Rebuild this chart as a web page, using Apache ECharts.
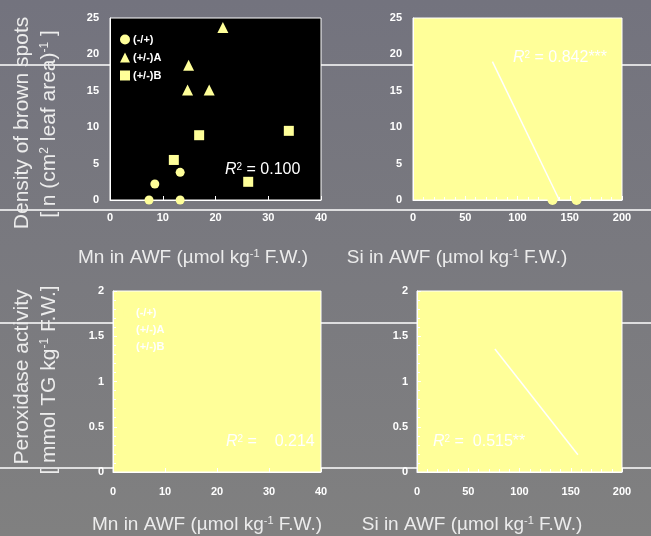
<!DOCTYPE html>
<html>
<head>
<meta charset="utf-8">
<script src="https://cdn.jsdelivr.net/npm/echarts@6/dist/echarts.min.js"></script>
<style>
  html, body { margin: 0; padding: 0; }
  #main { width: 651px; height: 536px; }
</style>
</head>
<body>
<div id="main"></div>
<script>
// 数据
var groupNames = ['(-/+)', '(+/-)A', '(+/-)B'];

// Mn (x) vs 褐斑密度 (y)
var mnSpotsMinusPlus = [[7.4, 0], [8.5, 2.2], [13.3, 3.8], [13.3, 0]];
var mnSpotsPlusMinusA = [[21.4, 23.7], [14.9, 18.5], [14.7, 15.1], [18.8, 15.1]];
var mnSpotsPlusMinusB = [[12.1, 5.5], [16.9, 8.9], [26.2, 2.5], [33.9, 9.5]];

// Si (x) vs 褐斑密度 (y): 只有落在0上的点可见
var siSpotsMinusPlus = [[133.5, 0], [156.5, 0]];
var siSpotsFit = [[76, 19], [140, 0]];

// Si (x) vs 过氧化物酶活性 (y)
var siPeroxFit = [[76, 1.36], [157, 0.19]];

// R2 标注
var r2Texts = ['0.100', '0.842***', '   0.214', ' 0.515**'];

var yellow = '#ffff99';
var fontFamily = 'Liberation Sans, Arial, sans-serif';

var chart = echarts.init(document.getElementById('main'), null, { renderer: 'canvas' });

/**
 * 坐标轴通用设置
 */
function makeAxis(gridIndex, max, interval, opts) {
  return {
    type: 'value',
    gridIndex: gridIndex,
    min: 0,
    max: max,
    interval: interval,
    splitLine: { show: false },
    axisLine: { show: true, lineStyle: { color: '#ffffff', width: 1 } },
    axisTick: { show: opts.tick, inside: true, length: 4, lineStyle: { color: '#ffffff' } },
    minorTick: { show: opts.minor > 0, splitNumber: opts.minor || 5, length: 3, lineStyle: { color: '#ffffff' } },
    axisLabel: {
      color: '#ffffff',
      fontWeight: 'bold',
      fontSize: 11,
      fontFamily: fontFamily,
      margin: opts.margin,
      showMinLabel: true,
      showMaxLabel: true
    }
  };
}

/**
 * R2 文字
 */
function r2Label(x, y, value) {
  return {
    type: 'text',
    left: x,
    top: y,
    z: 20,
    style: {
      text: '{i|R}{s|2}{n| = ' + value + '}',
      fill: '#ffffff',
      rich: {
        i: { fontStyle: 'italic', fontSize: 16, fontFamily: fontFamily, fill: '#ffffff' },
        s: { fontSize: 10, fontFamily: fontFamily, fill: '#ffffff', verticalAlign: 'top' },
        n: { fontSize: 16, fontFamily: fontFamily, fill: '#ffffff' }
      }
    }
  };
}

/**
 * 带上标的标题
 */
function titleText(x, y, parts, rotate) {
  var text = '';
  parts.forEach(function (p) {
    text += p[1] ? '{s|' + p[0] + '}' : '{n|' + p[0] + '}';
  });
  return {
    type: 'text',
    x: x,
    y: y,
    rotation: rotate ? Math.PI / 2 : 0,
    z: 20,
    style: {
      text: text,
      align: 'center',
      verticalAlign: 'middle',
      fill: '#ececec',
      rich: {
        n: { fontSize: rotate ? 21 : 19, fontFamily: fontFamily, fill: '#ececec' },
        s: { fontSize: rotate ? 12 : 11, fontFamily: fontFamily, fill: '#ececec', verticalAlign: 'top' }
      }
    }
  };
}

function hLine(y) {
  return {
    type: 'line',
    z: -10,
    shape: { x1: 0, y1: y, x2: 651, y2: y },
    style: { stroke: '#ffffff', lineWidth: 1.5 }
  };
}

var siXLabel = [['Si in AWF (µmol kg'], ['-1', true], [' F.W.)']];
var mnXLabel = [['Mn in AWF (µmol kg'], ['-1', true], [' F.W.)']];

var option = {
  backgroundColor: new echarts.graphic.LinearGradient(0, 0, 0, 1, [
    { offset: 0, color: '#73737e' },
    { offset: 1, color: '#808080' }
  ]),
  animation: false,
  grid: [
    { left: 110, top: 18, width: 211, height: 182, show: true, backgroundColor: '#000000', borderColor: '#ffffff', borderWidth: 1 },
    { left: 413, top: 18, width: 209, height: 182, show: true, backgroundColor: yellow, borderColor: '#ffffff', borderWidth: 1 },
    { left: 113, top: 291, width: 208, height: 181, show: true, backgroundColor: yellow, borderColor: '#ffffff', borderWidth: 1 },
    { left: 417, top: 291, width: 205, height: 181, show: true, backgroundColor: yellow, borderColor: '#ffffff', borderWidth: 1 }
  ],
  xAxis: [
    makeAxis(0, 40, 10, { tick: true, minor: 0, margin: 12 }),
    makeAxis(1, 200, 50, { tick: true, minor: 5, margin: 12 }),
    makeAxis(2, 40, 10, { tick: true, minor: 0, margin: 14 }),
    makeAxis(3, 200, 50, { tick: true, minor: 5, margin: 14 })
  ],
  yAxis: [
    makeAxis(0, 25, 5, { tick: false, minor: 0, margin: 11 }),
    makeAxis(1, 25, 5, { tick: false, minor: 0, margin: 11 }),
    makeAxis(2, 2, 0.5, { tick: true, minor: 5, margin: 9 }),
    makeAxis(3, 2, 0.5, { tick: true, minor: 5, margin: 9 })
  ],
  legend: [
    {
      orient: 'vertical',
      left: 115,
      top: 29,
      itemWidth: 10,
      itemHeight: 10,
      itemGap: 7,
      data: groupNames,
      textStyle: { color: '#ffffff', fontWeight: 'bold', fontSize: 11, fontFamily: fontFamily, padding: [0, 0, 0, -2] }
    },
    {
      orient: 'vertical',
      left: 118,
      top: 302,
      itemWidth: 10,
      itemHeight: 10,
      itemGap: 6,
      data: groupNames,
      textStyle: { color: '#ffffff', fontWeight: 'bold', fontSize: 11, fontFamily: fontFamily, padding: [0, 0, 0, -2] }
    }
  ],
  series: [
    {
      name: groupNames[0], type: 'scatter', xAxisIndex: 0, yAxisIndex: 0,
      symbol: 'circle', symbolSize: 9, itemStyle: { color: yellow, opacity: 1 },
      data: mnSpotsMinusPlus, z: 5
    },
    {
      name: groupNames[1], type: 'scatter', xAxisIndex: 0, yAxisIndex: 0,
      symbol: 'triangle', symbolSize: 11, itemStyle: { color: yellow, opacity: 1 },
      data: mnSpotsPlusMinusA, z: 5
    },
    {
      name: groupNames[2], type: 'scatter', xAxisIndex: 0, yAxisIndex: 0,
      symbol: 'rect', symbolSize: 10, itemStyle: { color: yellow, opacity: 1 },
      data: mnSpotsPlusMinusB, z: 5
    },
    {
      name: groupNames[0], type: 'scatter', xAxisIndex: 1, yAxisIndex: 1,
      symbol: 'circle', symbolSize: 10, itemStyle: { color: yellow, opacity: 1 },
      data: siSpotsMinusPlus, z: 5
    },
    {
      type: 'line', xAxisIndex: 1, yAxisIndex: 1,
      showSymbol: false, silent: true,
      lineStyle: { color: '#ffffff', width: 1.5 },
      data: siSpotsFit, z: 6
    },
    {
      type: 'line', xAxisIndex: 3, yAxisIndex: 3,
      showSymbol: false, silent: true,
      lineStyle: { color: '#ffffff', width: 1.5 },
      data: siPeroxFit, z: 6
    }
  ],
  graphic: [
    // 背景横线
    hLine(65), hLine(210), hLine(323), hLine(468),
    // R2
    r2Label(225, 162, r2Texts[0]),
    r2Label(513, 50, r2Texts[1]),
    r2Label(226, 434, r2Texts[2]),
    r2Label(433, 434, r2Texts[3]),
    // 坐标轴标题
    titleText(193, 258, mnXLabel, false),
    titleText(457, 258, siXLabel, false),
    titleText(207, 525, mnXLabel, false),
    titleText(472, 525, siXLabel, false),
    titleText(22, 123, [['Density of brown spots']], true),
    titleText(49, 124, [['[ n (cm'], ['2', true], [' leaf area)'], ['-1', true], [' ]']], true),
    titleText(22, 377, [['Peroxidase activity']], true),
    titleText(49, 380, [['[ mmol TG kg'], ['-1', true], [' F.W.]']], true)
  ]
};

chart.setOption(option);
</script>
</body>
</html>
